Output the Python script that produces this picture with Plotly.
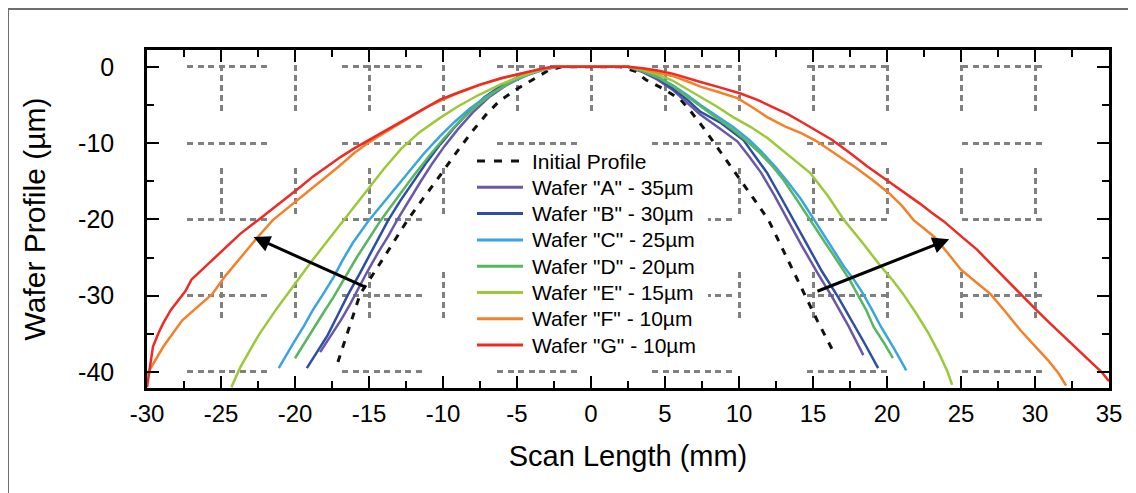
import plotly.graph_objects as go

# ---------------- data ----------------
init_x = [-17.1, -16.4, -15.6, -14.0, -12.4, -11.4, -10.4, -9.2, -8.0, -7.1, -6.2, -5.0, -3.9, -2.9, -2.0,
          0.0, 2.0, 3.0, 3.7, 4.9, 6.05, 6.8, 7.6, 8.8, 10.1, 11.0, 12.0, 13.1, 14.2, 15.3, 16.5]
init_y = [-38.7, -34.5, -29.8, -25.0, -20.1, -17.4, -14.8, -11.5, -8.4, -6.3, -4.5, -2.9, -1.6, -0.5, 0.0,
          0.0, 0.0, -0.6, -1.7, -2.9, -4.3, -6.0, -8.0, -11.3, -14.8, -17.3, -20.1, -24.5, -28.9, -33.3, -37.8]

a_x = [-18.3, -17.6, -16.9, -16.3, -15.8, -15.1, -14.4, -13.7, -13.1, -12.3, -11.5, -10.7, -9.9, -9.0, -8.0,
       -6.9, -5.8, -4.6, -3.5, -2.4, 0.0, 2.5, 3.5, 4.5, 5.5, 6.5, 7.4, 8.7, 9.9, 10.7, 11.5, 12.4, 13.2,
       14.2, 15.3, 16.3, 17.4, 18.4]
a_y = [-37.4, -35.3, -33.2, -31.2, -29.3, -26.8, -24.4, -22.2, -20.1, -17.5, -15.0, -12.6, -10.4, -8.2, -6.0,
       -4.0, -2.5, -1.3, -0.5, 0.0, 0.0, 0.0, -0.7, -1.7, -3.0, -4.7, -6.3, -8.1, -9.8, -11.8, -13.9, -16.9, -19.8,
       -23.3, -27.0, -30.2, -34.0, -37.8]

b_x = [-19.2, -18.5, -17.8, -17.1, -16.4, -15.6, -14.9, -14.3, -13.7, -12.9, -12.0, -11.1, -10.2, -9.3, -8.3,
       -7.2, -6.0, -4.8, -3.6, -2.4, 0.0, 2.5, 3.5, 4.5, 5.5, 6.5, 7.4, 8.8, 10.3, 11.1, 11.9, 12.8, 13.7,
       14.6, 15.6, 16.7, 17.6, 18.5, 19.4]
b_y = [-39.5, -37.3, -35.2, -32.5, -29.8, -27.0, -24.4, -22.2, -20.1, -17.6, -15.0, -12.5, -10.2, -8.1, -6.0,
       -4.0, -2.4, -1.2, -0.4, 0.0, 0.0, 0.0, -0.6, -1.5, -2.8, -4.3, -5.9, -7.4, -9.6, -11.7, -13.9, -17.0, -20.1,
       -23.3, -26.8, -30.2, -33.2, -36.3, -39.5]

c_x = [-21.1, -20.6, -20.1, -19.4, -18.8, -18.1, -17.4, -16.8, -16.1, -15.0, -13.7, -12.4, -11.3, -10.2, -9.2,
       -8.2, -7.0, -5.6, -4.3, -3.2, -2.3, 0.0, 2.5, 3.5, 4.5, 5.5, 6.5, 7.4, 8.5, 9.6, 10.7, 11.7, 12.5, 13.3,
       14.2, 15.0, 16.0, 17.1, 17.8, 18.4, 19.0, 19.6, 20.5, 21.3]
c_y = [-39.5, -37.8, -36.2, -34.0, -31.9, -29.8, -27.6, -25.4, -23.1, -20.1, -17.0, -13.9, -11.4, -9.1, -7.2,
       -5.5, -3.8, -2.2, -1.1, -0.4, 0.0, 0.0, 0.0, -0.5, -1.3, -2.4, -3.7, -5.0, -6.4, -7.9, -9.6, -11.5, -13.2, -15.1,
       -17.4, -19.8, -22.8, -26.2, -28.0, -29.8, -31.9, -34.1, -37.0, -39.8]

d_x = [-20.0, -19.4, -18.8, -18.1, -17.4, -16.6, -15.8, -15.0, -14.2, -13.1, -12.0, -10.9, -9.9, -8.9, -7.9,
       -6.6, -5.3, -4.1, -3.0, -2.2, 0.0, 2.5, 3.5, 4.5, 5.5, 6.5, 7.4, 8.5, 9.6, 10.5, 11.3, 12.2, 13.0, 13.9,
       14.8, 15.8, 16.9, 17.5, 18.0, 18.6, 19.1, 19.8, 20.4]
d_y = [-38.2, -36.3, -34.5, -32.3, -30.2, -27.5, -24.9, -22.5, -20.1, -17.2, -14.3, -11.6, -9.3, -7.2, -5.4,
       -3.4, -1.8, -0.8, -0.2, 0.0, 0.0, 0.0, -0.6, -1.4, -2.5, -3.9, -5.2, -6.8, -8.3, -9.7, -11.1, -12.9, -14.8, -17.4,
       -20.1, -23.0, -26.2, -28.0, -29.8, -31.9, -34.1, -36.2, -38.2]

e_x = [-24.3, -23.7, -23.0, -22.4, -21.2, -20.1, -18.8, -17.6, -16.4, -15.2, -14.0, -12.8, -11.6, -10.2,
       -9.0, -7.6, -6.1, -4.8, -3.4, -2.4, 0.0, 2.5, 3.5, 4.5, 5.5, 6.5, 7.4, 8.5, 9.6, 10.8, 11.9,
       13.3, 14.8, 16.0, 17.1, 18.4, 19.6, 20.4, 21.1, 22.0, 22.8, 23.5, 24.1, 24.4]
e_y = [-42.0, -39.4, -37.0, -35.0, -31.6, -28.7, -25.3, -22.3, -19.3, -16.4, -13.4, -10.7, -8.6, -6.7,
       -5.2, -3.7, -2.3, -1.3, -0.4, 0.0, 0.0, 0.0, -0.4, -1.0, -1.8, -2.9, -3.9, -5.2, -6.6, -7.9, -9.3,
       -11.5, -13.9, -16.9, -20.1, -23.2, -26.2, -28.0, -29.8, -32.4, -34.9, -37.5, -40.0, -41.7]

f_x = [-30.0, -29.5, -28.9, -28.2, -27.6, -26.6, -25.6, -24.7, -23.7, -22.6, -21.5, -20.3, -19.2, -18.0, -17.0,
       -16.0, -15.0, -14.0, -13.0, -12.0, -11.0, -10.0, -8.8, -7.4, -6.0, -4.7, -3.5, -2.5, 0.0, 2.5, 3.5, 4.5,
       5.5, 6.5, 7.4, 8.6, 9.9, 10.9, 11.9, 13.1, 14.2, 15.2, 16.5, 17.8, 19.0, 20.1, 21.0, 21.8, 22.5, 23.2,
       24.1, 25.0, 26.0, 27.0, 28.0, 29.0, 30.0, 30.9, 31.6, 32.1]
f_y = [-40.3, -38.6, -36.7, -34.8, -33.2, -31.5, -29.8, -27.4, -25.0, -22.5, -20.1, -18.2, -16.4, -14.6, -13.0,
       -11.3, -9.9, -8.7, -7.5, -6.3, -5.2, -4.3, -3.3, -2.3, -1.5, -0.9, -0.4, 0.0, 0.0, 0.0, -0.3, -0.7,
       -1.2, -1.9, -2.6, -3.3, -4.1, -5.3, -6.6, -7.8, -8.7, -9.7, -11.4, -13.1, -14.8, -16.5, -18.2, -20.1, -21.2, -22.3,
       -24.4, -26.6, -28.2, -29.8, -32.1, -34.5, -36.6, -38.5, -40.2, -41.8]

g_x = [-30.0, -29.8, -29.6, -29.2, -28.9, -28.4, -27.9, -27.4, -27.0, -26.3, -25.6, -24.6, -23.7, -22.5, -21.5,
       -20.5, -19.6, -18.8, -17.8, -16.9, -16.0, -15.0, -14.0, -13.0, -12.0, -11.1, -10.2, -9.0, -7.6, -6.1,
       -4.8, -4.0, -3.2, -2.5, 0.0, 2.5, 3.5, 4.5, 5.5, 6.5, 7.4, 8.7, 10.1, 11.2, 12.3, 13.3, 14.2, 15.3, 16.3,
       17.5, 18.7, 19.8, 20.9, 22.2, 23.0, 23.8, 25.0, 26.1, 27.0, 27.9, 28.9, 29.9, 31.0, 32.2, 33.3, 34.5, 35.0]
g_y = [-42.0, -39.5, -36.7, -34.8, -33.6, -31.9, -30.6, -29.4, -27.9, -26.6, -25.3, -23.5, -21.9, -20.1, -18.6,
       -17.1, -15.7, -14.4, -13.0, -11.8, -10.7, -9.6, -8.5, -7.4, -6.2, -5.2, -4.3, -3.4, -2.4, -1.5,
       -0.9, -0.5, -0.2, 0.0, 0.0, 0.0, -0.2, -0.5, -0.9, -1.5, -2.0, -2.7, -3.5, -4.3, -5.3, -6.2, -7.2, -8.4, -9.6,
       -11.3, -13.1, -14.6, -16.1, -17.9, -19.1, -20.2, -22.2, -24.0, -25.8, -27.6, -29.5, -31.5, -33.6, -35.8, -37.8, -40.0, -41.2]

series_names = ['Initial Profile', 'Wafer "A" - 35µm', 'Wafer "B" - 30µm', 'Wafer "C" - 25µm',
                'Wafer "D" - 20µm', 'Wafer "E" - 15µm', 'Wafer "F" - 10µm', 'Wafer "G" - 10µm']
series_colors = ['#111111', '#6a57a8', '#2c4fa3', '#39a5de', '#58b65f', '#9cc83a', '#f5802a', '#ee2a25']
series_x = [init_x, a_x, b_x, c_x, d_x, e_x, f_x, g_x]
series_y = [init_y, a_y, b_y, c_y, d_y, e_y, f_y, g_y]

x_ticks = [-30, -25, -20, -15, -10, -5, 0, 5, 10, 15, 20, 25, 30, 35]
y_ticks = [0, -10, -20, -30, -40]

FONT = "Liberation Sans, Arial, Helvetica, sans-serif"
INIT_DASH = '7px,8px'

# ---------------- figure ----------------
fig = go.Figure()
for name, col, xs, ys in zip(series_names, series_colors, series_x, series_y):
    if name == 'Initial Profile':
        line = dict(color=col, width=3, dash=INIT_DASH)
    else:
        line = dict(color=col, width=2.5)
    fig.add_trace(go.Scatter(x=xs, y=ys, mode='lines', name=name, line=line, showlegend=False))

def small_dashes(n, dash=6, gap=4.5):
    parts = []
    for i in range(n):
        parts.append(f'{dash}px')
        if i < n - 1:
            parts.append(f'{gap}px')
    return parts

# horizontal grid (drawn from left): long dashes made of short dashes
hpat = ['0px', '40px']
for k in range(7):
    hpat += small_dashes(8) + ['75.5px']
hdash = ','.join(hpat)
# vertical grid (drawn from top)
vpat = (['0px', '15px'] + small_dashes(5, 6, 4) + ['57px'] + small_dashes(5, 6, 4) + ['58px']
        + small_dashes(5, 6, 4) + ['300px'])
vdash = ','.join(vpat)

W, H = 1128, 485
ML, MT, PW, PH = 139, 42, 962, 338

fig.update_layout(
    width=W, height=H,
    margin=dict(l=ML, r=W - ML - PW, t=MT, b=H - MT - PH, autoexpand=False),
    paper_bgcolor='white', plot_bgcolor='white',
    font=dict(family=FONT, color='black'),
    showlegend=False,
    xaxis=dict(range=[-30, 35], tickvals=x_ticks, ticktext=[str(v) for v in x_ticks],
               ticks='inside', ticklen=12, tickwidth=2, tickcolor='black',
               minor=dict(dtick=2.5, ticks='inside', ticklen=7, tickwidth=2, tickcolor='black', showgrid=False),
               showline=True, linewidth=2.5, linecolor='black', mirror='ticks',
               showgrid=True, gridcolor='#808080', gridwidth=2.5, griddash=vdash,
               zeroline=False, automargin=False,
               tickfont=dict(family=FONT, size=24), ticklabelstandoff=2,
               title=dict(text='Scan Length (mm)', font=dict(family=FONT, size=29), standoff=21)),
    yaxis=dict(range=[-42.1, 2.2], tickvals=y_ticks, ticktext=[str(v) for v in y_ticks],
               ticks='inside', ticklen=12, tickwidth=2, tickcolor='black',
               minor=dict(dtick=5, ticks='inside', ticklen=7, tickwidth=2, tickcolor='black', showgrid=False),
               showline=True, linewidth=2.5, linecolor='black', mirror='ticks',
               showgrid=True, gridcolor='#808080', gridwidth=2.5, griddash=hdash,
               zeroline=False, automargin=False,
               tickfont=dict(family=FONT, size=25), ticklabelstandoff=25,
               title=dict(text='Wafer Profile (µm)', font=dict(family=FONT, size=30), standoff=24)),
)

# ---------------- legend (built from the series lists) ----------------
def px_x(p):   # figure pixel -> paper x
    return (p - ML) / PW
def px_y(p):   # figure pixel -> paper y
    return (MT + PH - p) / PH

LEG_LEFT, LEG_TOP, LEG_ROW = 469, 153, 26.3
fig.add_shape(type='rect', xref='paper', yref='paper',
              x0=px_x(462), x1=px_x(700), y0=px_y(140), y1=px_y(352),
              fillcolor='white', line=dict(width=0), layer='above')
for i, (name, col) in enumerate(zip(series_names, series_colors)):
    yy = px_y(LEG_TOP + i * LEG_ROW)
    if name == 'Initial Profile':
        ln = dict(color=col, width=3, dash='8px,9px')
    else:
        ln = dict(color=col, width=3)
    fig.add_shape(type='line', xref='paper', yref='paper', x0=px_x(LEG_LEFT), x1=px_x(LEG_LEFT + 46),
                  y0=yy, y1=yy, line=ln, layer='above')
    fig.add_annotation(x=px_x(LEG_LEFT + 53), y=yy, xref='paper', yref='paper', text=name,
                       showarrow=False, xanchor='left', yanchor='middle',
                       font=dict(family=FONT, size=21, color='black'))

# arrows
fig.add_annotation(x=-22.8, y=-22.3, ax=-15.1, ay=-29.0, xref='x', yref='y', axref='x', ayref='y',
                   showarrow=True, arrowhead=2, arrowsize=1.1, arrowwidth=3, arrowcolor='black', text='')
fig.add_annotation(x=24.2, y=-22.6, ax=15.2, ay=-29.5, xref='x', yref='y', axref='x', ayref='y',
                   showarrow=True, arrowhead=2, arrowsize=1.1, arrowwidth=3, arrowcolor='black', text='')

# outer frame of the picture
fig.add_shape(type='rect', xref='paper', yref='paper', x0=px_x(0), y0=-0.5, x1=1.2, y1=px_y(1),
              line=dict(color='#6e6e6e', width=2), fillcolor='rgba(0,0,0,0)', layer='below')

fig.write_html("out.html")
